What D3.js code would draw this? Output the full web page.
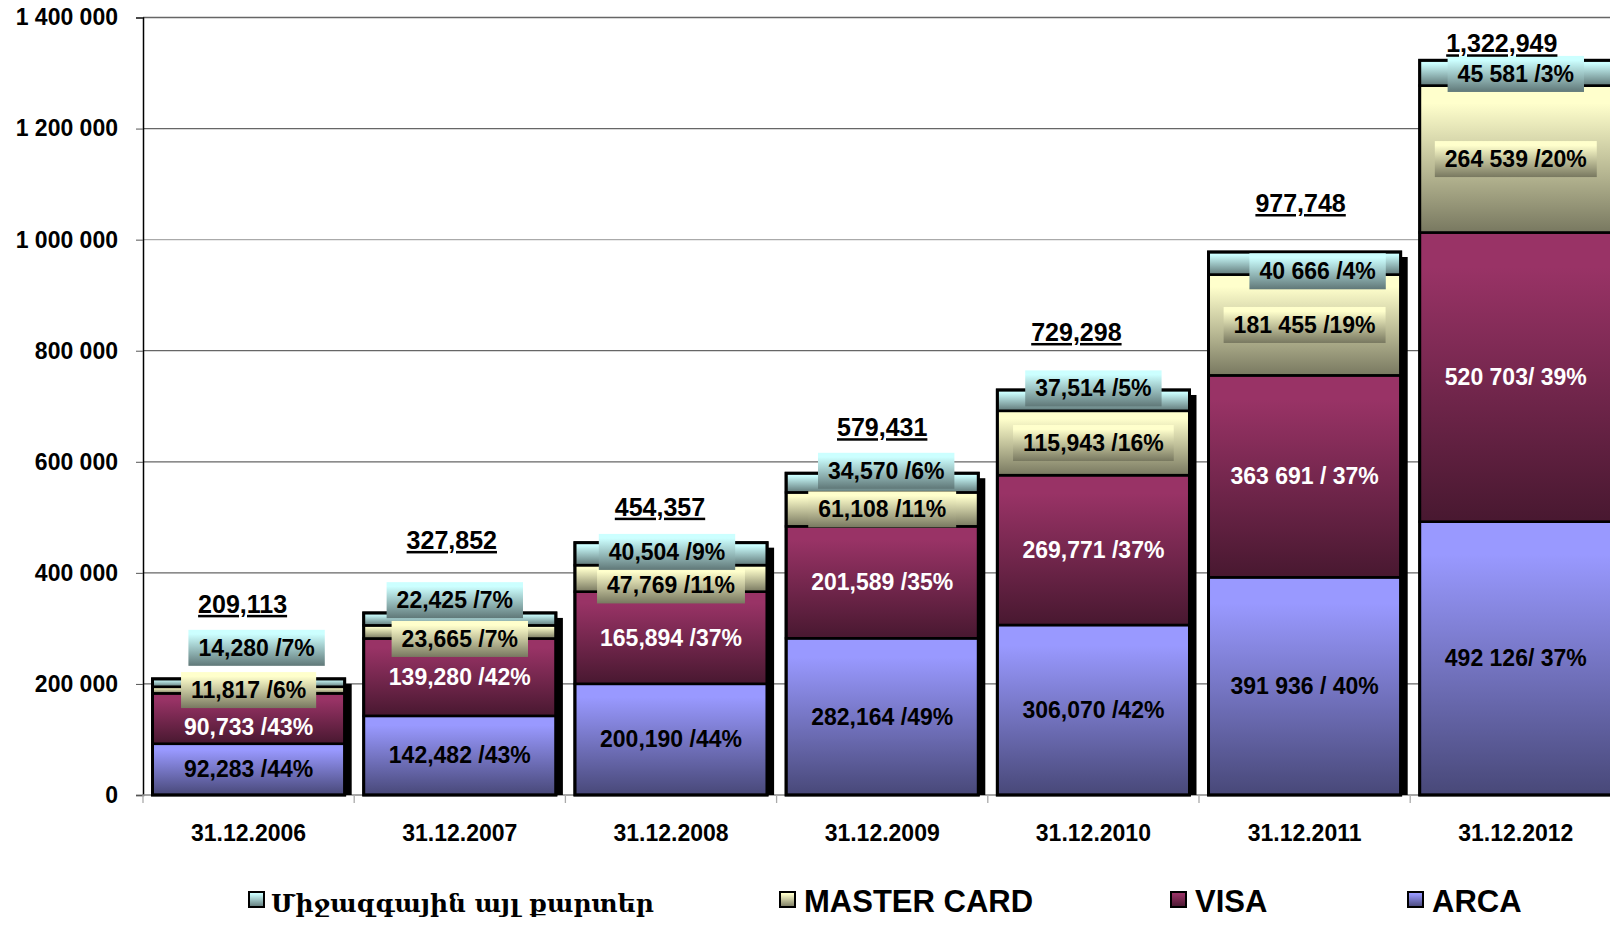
<!DOCTYPE html>
<html>
<head>
<meta charset="utf-8">
<script src="https://cdn.jsdelivr.net/npm/d3@7"></script>
<style>
  body { margin: 0; background: #fff; }
  svg { display: block; font-family: "Liberation Sans", Arial, sans-serif; font-weight: bold; }
</style>
</head>
<body>
<svg id="chart" width="1610" height="925"></svg>
<script>
// data
const dates = ["31.12.2006", "31.12.2007", "31.12.2008", "31.12.2009", "31.12.2010", "31.12.2011", "31.12.2012"];
const arca  = [92283, 142482, 200190, 282164, 306070, 391936, 492126];
const visa  = [90733, 139280, 165894, 201589, 269771, 363691, 520703];
const master = [11817, 23665, 47769, 61108, 115943, 181455, 264539];
const other = [14280, 22425, 40504, 34570, 37514, 40666, 45581];

const arcaText   = ["92,283 /44%", "142,482 /43%", "200,190 /44%", "282,164 /49%", "306,070 /42%", "391 936 / 40%", "492 126/ 37%"];
const visaText   = ["90,733 /43%", "139,280 /42%", "165,894 /37%", "201,589 /35%", "269,771 /37%", "363 691 / 37%", "520 703/ 39%"];
const masterText = ["11,817 /6%", "23,665 /7%", "47,769 /11%", "61,108 /11%", "115,943 /16%", "181 455 /19%", "264 539 /20%"];
const otherText  = ["14,280 /7%", "22,425 /7%", "40,504 /9%", "34,570 /6%", "37,514 /5%", "40 666 /4%", "45 581 /3%"];

const yTicks = [0, 200000, 400000, 600000, 800000, 1000000, 1200000, 1400000];

const seriesKeys = ["arca", "visa", "master", "other"];
const legendNames = ["Միջազգային այլ քարտեր", "MASTER CARD", "VISA", "ARCA"];
const legendKeys = ["other", "master", "visa", "arca"];

// layout tweaks (pixels) for the hand placed labels in the original
const totalNudge = [[-6, -75], [-8, -73], [-11, -36], [0, -46], [-17, -58], [-4, -49], [-14, -17]];
const otherNudge = [[8, -35], [-5, -19], [-4, -2], [4, -12], [0, -12], [13, 8], [0, 1]];
const masterNudge = [0, 7, 7, 0, 0, 0, 0];
const visaNudge = [8, 0, 0, 0, 0, 0, 0];

const colors = { arca: "#9999ff", visa: "#993366", master: "#ffffcc", other: "#ccffff" };

const rows = dates.map((d, i) => ({ date: d, arca: arca[i], visa: visa[i], master: master[i], other: other[i] }));
const texts = { arca: arcaText, visa: visaText, master: masterText, other: otherText };

const svg = d3.select("#chart");
const x0 = 143, y0 = 795, yTop = 17.5;

const x = d3.scaleBand()
    .domain(dates)
    .range([x0, x0 + 7 * 211.2])
    .paddingInner(0.09)
    .paddingOuter(0.045);

const y = d3.scaleLinear()
    .domain([0, 1400000])
    .range([y0, yTop]);

// gradients
const defs = svg.append("defs");
function darker(c, k) {
    const r = d3.rgb(c);
    return d3.rgb(r.r * k, r.g * k, r.b * k).formatHex();
}
seriesKeys.forEach(k => {
    const g = defs.append("linearGradient").attr("id", "g-" + k)
        .attr("x1", 0).attr("y1", 0).attr("x2", 0).attr("y2", 1);
    g.append("stop").attr("offset", 0).attr("stop-color", colors[k]);
    g.append("stop").attr("offset", 0.12).attr("stop-color", colors[k]);
    g.append("stop").attr("offset", 1).attr("stop-color", darker(colors[k], 0.47));
});

const fmtSpace = d3.formatLocale({ decimal: ".", thousands: " ", grouping: [3] }).format(",");
const fmtComma = d3.format(",");

// gridlines
svg.append("g")
    .selectAll("line")
    .data(yTicks.filter(t => t > 0))
    .join("line")
    .attr("x1", x0).attr("x2", 1610)
    .attr("y1", d => y(d)).attr("y2", d => y(d))
    .attr("stroke", d => d === 1000000 ? "#aaa" : "#666")
    .attr("stroke-width", 1.3);

// y axis
const yAxis = svg.append("g")
    .attr("transform", `translate(${x0},0)`)
    .call(d3.axisLeft(y).tickValues(yTicks).tickFormat(fmtSpace).tickSize(7).tickPadding(18));
yAxis.select(".domain").attr("stroke", "#000").attr("stroke-width", 1.5);
yAxis.selectAll(".tick line").attr("stroke", "#555");
yAxis.selectAll("text")
    .attr("font-size", 23)
    .attr("font-weight", "bold")
    .attr("font-family", "Liberation Sans, Arial, sans-serif")
    .attr("fill", "#000");

// x axis line + boundary ticks
svg.append("line")
    .attr("x1", x0).attr("x2", 1610).attr("y1", y0).attr("y2", y0)
    .attr("stroke", "#888").attr("stroke-width", 1.3);
svg.append("g")
    .selectAll("line")
    .data(d3.range(dates.length + 1).map(i => x0 + i * x.step()))
    .join("line")
    .attr("x1", d => d).attr("x2", d => d)
    .attr("y1", y0).attr("y2", y0 + 8)
    .attr("stroke", "#aaa").attr("stroke-width", 1.3);

svg.append("g")
    .selectAll("text")
    .data(dates)
    .join("text")
    .attr("x", d => x(d) + x.bandwidth() / 2)
    .attr("y", 841)
    .attr("text-anchor", "middle")
    .attr("font-size", 23)
    .text(d => d);

// stacked bars
const stack = d3.stack().keys(seriesKeys);
const series = stack(rows);
const totals = rows.map(r => r.arca + r.visa + r.master + r.other);

// shadows
svg.append("g")
    .selectAll("rect")
    .data(rows)
    .join("rect")
    .attr("x", d => x(d.date) + 7)
    .attr("y", (d, i) => y(totals[i]) + 5)
    .attr("width", x.bandwidth())
    .attr("height", (d, i) => y0 - y(totals[i]) - 5)
    .attr("fill", "#000");

const layers = svg.append("g")
    .selectAll("g")
    .data(series)
    .join("g")
    .attr("fill", d => `url(#g-${d.key})`);

layers.selectAll("rect")
    .data(d => d)
    .join("rect")
    .attr("x", d => x(d.data.date))
    .attr("y", d => y(d[1]))
    .attr("width", x.bandwidth())
    .attr("height", d => y(d[0]) - y(d[1]))
    .attr("stroke", "#000")
    .attr("stroke-width", 2.6);

// outer frame
svg.append("g")
    .selectAll("rect")
    .data(rows)
    .join("rect")
    .attr("x", d => x(d.date))
    .attr("y", (d, i) => y(totals[i]))
    .attr("width", x.bandwidth())
    .attr("height", (d, i) => y0 - y(totals[i]))
    .attr("fill", "none")
    .attr("stroke", "#000")
    .attr("stroke-width", 3);

// segment labels
const labelG = svg.append("g");
series.forEach(s => {
    s.forEach((d, i) => {
        let cx = x(d.data.date) + x.bandwidth() / 2;
        let cy = (y(d[0]) + y(d[1])) / 2;
        if (s.key === "other") { cx += otherNudge[i][0]; cy += otherNudge[i][1]; }
        if (s.key === "master") cy += masterNudge[i];
        if (s.key === "visa") cy += visaNudge[i];
        const g = labelG.append("g");
        const t = g.append("text")
            .attr("x", cx)
            .attr("y", cy + 8)
            .attr("text-anchor", "middle")
            .attr("font-size", 23)
            .attr("fill", s.key === "visa" ? "#fff" : "#000")
            .text(texts[s.key][i]);
        if (s.key === "other" || s.key === "master") {
            const w = t.node().getComputedTextLength();
            g.insert("rect", "text")
                .attr("x", cx - w / 2 - 10)
                .attr("y", cy - 18)
                .attr("width", w + 20)
                .attr("height", 36)
                .attr("fill", `url(#g-${s.key})`);
        }
    });
});

// totals
svg.append("g")
    .selectAll("text")
    .data(totals)
    .join("text")
    .attr("x", (d, i) => x(dates[i]) + x.bandwidth() / 2 + totalNudge[i][0])
    .attr("y", (d, i) => y(d) + totalNudge[i][1] + 9)
    .attr("text-anchor", "middle")
    .attr("font-size", 25)
    .attr("text-decoration", "underline")
    .text(d => fmtComma(d));

// legend
const legendX = [249, 780, 1171, 1408];
const legend = svg.append("g")
    .selectAll("g")
    .data(legendKeys)
    .join("g")
    .attr("transform", (d, i) => `translate(${legendX[i]},892)`);
legend.append("rect")
    .attr("width", 15).attr("height", 15)
    .attr("fill", d => `url(#g-${d})`)
    .attr("stroke", "#000").attr("stroke-width", 2);
legend.append("text")
    .attr("x", (d, i) => i === 0 ? 22 : 24)
    .attr("y", 20)
    .attr("font-size", (d, i) => i === 0 ? 25 : 31)
    .attr("font-weight", "bold")
    .attr("font-family", (d, i) => i === 0 ? "DejaVu Serif, DejaVu Sans, serif" : null)
    .text((d, i) => legendNames[i]);
</script>
</body>
</html>
